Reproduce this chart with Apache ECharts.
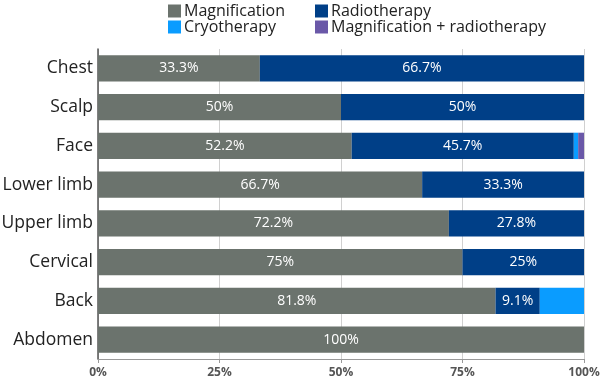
<!DOCTYPE html>
<html><head><meta charset="utf-8">
<script src="https://cdn.jsdelivr.net/npm/echarts@6/dist/echarts.min.js"></script>
<style>html,body{margin:0;padding:0;background:#fff}#c{width:600px;height:381px}</style>
</head><body><div id="c"></div>
<script>
const categories = ['Chest','Scalp','Face','Lower limb','Upper limb','Cervical','Back','Abdomen'];
const magnification = [33.3, 50, 52.2, 66.7, 72.2, 75, 81.8, 100];
const radiotherapy = [66.7, 50, 45.7, 33.3, 27.8, 25, 9.1, 0];
const cryotherapy = [0, 0, 0.9, 0, 0, 0, 9.1, 0];
const magRadio = [0, 0, 1.2, 0, 0, 0, 0, 0];
const xTicks = ['0%','25%','50%','75%','100%'];

const font = '"Open Sans", "Noto Sans", sans-serif';
function mk(name, data, color, showLabel){
  return {
    name, type:'bar', stack:'t', data, barCategoryGap:'32%',
    itemStyle:{color},
    label:{show:showLabel, position:'inside', color:'#fff', fontFamily:font, fontSize:14,
      formatter:p => p.value > 5 ? p.value + '%' : ''}
  };
}
const legendCommon = {orient:'vertical', top:3, padding:0, itemWidth:13, itemHeight:13, itemGap:0,
  icon:'rect', textStyle:{fontSize:16, color:'#222', fontFamily:font, lineHeight:13, padding:[0,0,0,-2]}};
const chart = echarts.init(document.getElementById('c'));
chart.setOption({
  animation:false,
  textStyle:{fontFamily:font},
  legend:[
    Object.assign({left:168, data:['Magnification','Cryotherapy']}, legendCommon),
    Object.assign({left:315, data:['Radiotherapy','Magnification + radiotherapy']}, legendCommon)
  ],
  grid:{left:98, right:16, top:49, bottom:22, containLabel:false, outerBoundsMode:'none'},
  xAxis:{type:'value', min:0, max:100, interval:25,
    axisLine:{show:true, lineStyle:{color:'#999'}},
    axisTick:{show:true, length:4, lineStyle:{color:'#999'}},
    splitLine:{show:true, lineStyle:{color:'#d0d0d0'}},
    axisLabel:{color:'#555', fontSize:12, fontWeight:'bold', fontFamily:font,
      formatter:v => xTicks[Math.round(v/25)]}},
  yAxis:{type:'category', data:categories, inverse:true,
    axisLine:{show:true, lineStyle:{color:'#555', width:1.5}},
    axisTick:{show:false},
    axisLabel:{color:'#222', fontSize:17.5, fontFamily:font, margin:5}},
  series:[
    mk('Magnification', magnification, '#6b736d', true),
    mk('Radiotherapy', radiotherapy, '#003f87', true),
    mk('Cryotherapy', cryotherapy, '#0a9cff', false),
    mk('Magnification + radiotherapy', magRadio, '#6a58a8', false)
  ]
});
</script></body></html>
